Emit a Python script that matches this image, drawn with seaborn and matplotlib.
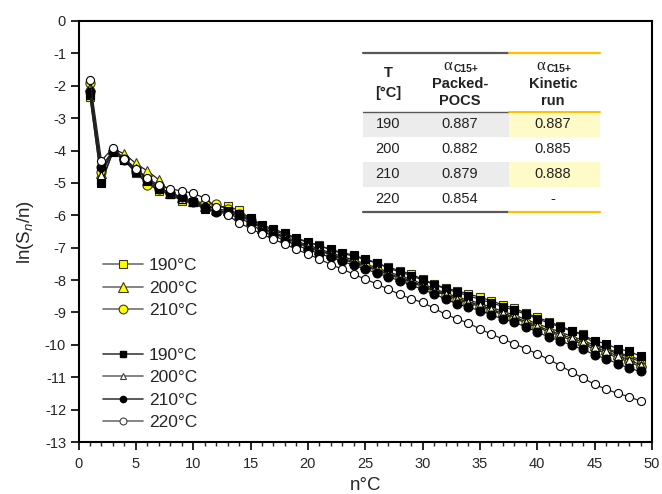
import numpy as np
import pandas as pd
import matplotlib
matplotlib.use("Agg")
import matplotlib.pyplot as plt
from matplotlib.lines import Line2D
from matplotlib.patches import Rectangle
import seaborn as sns

# ---------------- data ----------------
n_carbon = list(range(1, 50))

packed_190 = [-2.35, -4.95, -4.05, -4.30, -4.70, -5.00, -5.25, -5.35, -5.55, -5.60,
              -5.72, -5.75, -5.72, -5.85, -6.10, -6.33, -6.46, -6.60, -6.72, -6.84,
              -6.92, -7.07, -7.18, -7.26, -7.37, -7.48, -7.60, -7.71, -7.82, -7.97,
              -8.12, -8.25, -8.33, -8.43, -8.53, -8.64, -8.77, -8.87, -9.02, -9.15,
              -9.28, -9.42, -9.56, -9.68, -9.98, -10.10, -10.24, -10.34, -10.46]
packed_200 = [-2.00, -4.70, -3.95, -4.10, -4.40, -4.63, -4.90, -5.30, -5.45, -5.55,
              -5.70, -5.80, -5.85, -5.98, -6.15, -6.38, -6.52, -6.66, -6.80, -6.92,
              -7.04, -7.16, -7.27, -7.38, -7.50, -7.62, -7.75, -7.86, -7.98, -8.12,
              -8.26, -8.40, -8.52, -8.62, -8.72, -8.84, -8.97, -9.08, -9.22, -9.35,
              -9.48, -9.60, -9.74, -9.86, -10.02, -10.13, -10.28, -10.38, -10.52]
packed_210 = [-1.90, -4.65, -4.00, -4.28, -4.65, -5.05, -5.20, -5.30, -5.45, -5.55,
              -5.63, -5.66, -5.82, -5.95, -6.15, -6.40, -6.55, -6.70, -6.85, -6.98,
              -7.10, -7.22, -7.35, -7.47, -7.58, -7.70, -7.83, -7.95, -8.07, -8.20,
              -8.33, -8.47, -8.60, -8.70, -8.82, -8.94, -9.07, -9.18, -9.32, -9.46,
              -9.60, -9.72, -9.86, -9.98, -10.14, -10.26, -10.40, -10.52, -10.68]
kinetic_190 = [-2.30, -5.00, -4.05, -4.30, -4.65, -4.95, -5.20, -5.35, -5.50, -5.60,
               -5.82, -5.88, -5.88, -5.95, -6.08, -6.30, -6.42, -6.56, -6.70, -6.82,
               -6.95, -7.05, -7.15, -7.23, -7.35, -7.46, -7.63, -7.75, -7.86, -8.00,
               -8.14, -8.27, -8.38, -8.48, -8.60, -8.70, -8.82, -8.93, -9.06, -9.19,
               -9.33, -9.45, -9.58, -9.70, -9.87, -9.97, -10.12, -10.20, -10.35]
kinetic_200 = [-2.05, -4.75, -4.00, -4.25, -4.55, -4.85, -5.15, -5.35, -5.50, -5.60,
               -5.75, -5.85, -5.90, -6.02, -6.18, -6.42, -6.55, -6.70, -6.84, -6.96,
               -7.08, -7.20, -7.32, -7.43, -7.55, -7.67, -7.80, -7.91, -8.03, -8.17,
               -8.30, -8.44, -8.57, -8.67, -8.78, -8.90, -9.03, -9.14, -9.28, -9.42,
               -9.55, -9.67, -9.80, -9.92, -10.08, -10.20, -10.34, -10.46, -10.62]
kinetic_210 = [-2.20, -4.50, -4.00, -4.25, -4.60, -4.90, -5.15, -5.30, -5.45, -5.60,
               -5.75, -5.90, -5.95, -6.08, -6.25, -6.50, -6.63, -6.78, -6.92, -7.06,
               -7.18, -7.30, -7.42, -7.54, -7.66, -7.78, -7.90, -8.02, -8.15, -8.29,
               -8.43, -8.58, -8.74, -8.84, -8.94, -9.08, -9.20, -9.30, -9.45, -9.60,
               -9.76, -9.87, -10.02, -10.14, -10.31, -10.43, -10.58, -10.72, -10.82]
kinetic_220 = [-1.82, -4.31, -3.92, -4.25, -4.58, -4.86, -5.07, -5.18, -5.25, -5.32,
               -5.47, -5.74, -6.00, -6.23, -6.41, -6.58, -6.74, -6.89, -7.05, -7.20,
               -7.35, -7.52, -7.66, -7.82, -7.97, -8.12, -8.28, -8.44, -8.58, -8.69,
               -8.87, -9.06, -9.20, -9.33, -9.51, -9.67, -9.82, -9.97, -10.12, -10.28,
               -10.45, -10.64, -10.84, -11.03, -11.22, -11.37, -11.50, -11.60, -11.74]

legend_labels = ["190°C", "200°C", "210°C", "190°C", "200°C", "210°C", "220°C"]

table_T = ["190", "200", "210", "220"]
table_packed = ["0.887", "0.882", "0.879", "0.854"]
table_kinetic = ["0.887", "0.885", "0.888", "-"]

# ---------------- style ----------------
sns.set_style("white")
plt.rcParams["font.family"] = ["Liberation Sans", "DejaVu Sans"]
plt.rcParams["axes.unicode_minus"] = False
plt.rcParams["mathtext.fontset"] = "custom"
plt.rcParams["mathtext.rm"] = "Liberation Sans"
plt.rcParams["mathtext.it"] = "Liberation Sans:italic"

W, H = 662, 494
fig = plt.figure(figsize=(W / 100, H / 100), dpi=100)
ax_l, ax_r, ax_t, ax_b = 78.5, 652, 21, 442
ax = fig.add_axes([ax_l / W, 1 - ax_b / H, (ax_r - ax_l) / W, (ax_b - ax_t) / H])

YEL = "#ffff00"
YEL_EDGE = "#3a3a1a"
series = [
    (packed_190, "s", YEL, YEL_EDGE, 6.4),
    (packed_200, "^", YEL, YEL_EDGE, 7.0),
    (packed_210, "o", YEL, YEL_EDGE, 6.6),
    (kinetic_190, "s", "black", "black", 6.0),
    (kinetic_200, "^", "white", "black", 6.4),
    (kinetic_210, "o", "black", "black", 6.4),
    (kinetic_220, "o", "white", "black", 5.8),
]
for vals, mk, fc, ec, ms in series:
    df = pd.DataFrame({"n": n_carbon, "v": vals})
    sns.lineplot(data=df, x="n", y="v", ax=ax, color="#202020", lw=0.9,
                 marker=mk, markersize=ms, markerfacecolor=fc,
                 markeredgecolor=ec, markeredgewidth=0.8, legend=False)

ax.set_xlim(0, 50)
ax.set_ylim(-13, 0)
ax.set_xticks(np.arange(0, 51, 5))
ax.set_xticks(np.arange(0, 51, 1), minor=True)
ax.set_yticks(np.arange(-13, 1, 1))
ax.tick_params(axis="both", which="major", direction="out", length=6, width=1.2,
               labelsize=10.5, color="black", pad=3, bottom=True, left=True,
               top=False, right=False)
ax.tick_params(axis="x", which="major", pad=5)
ax.tick_params(axis="x", which="minor", direction="out", length=3, width=1.0,
               bottom=True, top=False)
for sp in ax.spines.values():
    sp.set_visible(True)
    sp.set_color("black")
    sp.set_linewidth(1.5)
ax.set_xlabel("n°C", fontsize=13.5, labelpad=4)
ax.set_ylabel("ln(S$_n$/n)", fontsize=13.5, labelpad=6)

# ---------------- legend ----------------
LG = "#707070"
handles = [
    Line2D([], [], color=LG, lw=1.2, marker="s", ms=5.5, mfc=YEL, mec=YEL_EDGE, mew=0.8),
    Line2D([], [], color=LG, lw=1.2, marker="^", ms=6.5, mfc=YEL, mec=YEL_EDGE, mew=0.8),
    Line2D([], [], color=LG, lw=1.2, marker="o", ms=6.3, mfc=YEL, mec=YEL_EDGE, mew=0.8),
    Line2D([], [], linestyle="none", marker="none"),
    Line2D([], [], color="#404040", lw=1.2, marker="s", ms=4.0, mfc="black", mec="black"),
    Line2D([], [], color=LG, lw=1.2, marker="^", ms=5.0, mfc="white", mec="#404040", mew=0.8),
    Line2D([], [], color="#404040", lw=1.2, marker="o", ms=4.5, mfc="black", mec="black"),
    Line2D([], [], color=LG, lw=1.2, marker="o", ms=5.0, mfc="white", mec="#404040", mew=0.8),
]
labels = legend_labels[:3] + [" "] + legend_labels[3:]
fig.legend(handles, labels, loc="upper left", bbox_to_anchor=(103 / W, 1 - 258 / H),
           frameon=False, fontsize=12.5, handlelength=2.3, handletextpad=0.35,
           labelspacing=0.42, borderpad=0, borderaxespad=0)

# ---------------- table ----------------
def fx(px):
    return px / W

def fy(py):
    return 1 - py / H

x0, xs, x1 = 363, 509, 600
DARK = "#595959"
GOLD = "#ffc000"
y_top, y_hdr = 52.7, 111.7
row_h = 25.0
row_tops = [y_hdr + i * row_h for i in range(4)]
y_bot = y_hdr + 4 * row_h

for i, rt in enumerate(row_tops):
    if i % 2 == 0:
        fig.add_artist(Rectangle((fx(x0), fy(rt + row_h)), fx(xs) - fx(x0), fy(rt) - fy(rt + row_h),
                                 transform=fig.transFigure, facecolor="#ececec", edgecolor="none", zorder=1))
        fig.add_artist(Rectangle((fx(xs), fy(rt + row_h)), fx(x1) - fx(xs), fy(rt) - fy(rt + row_h),
                                 transform=fig.transFigure, facecolor="#fefbc8", edgecolor="none", zorder=1))

def hline(y, xa, xb, color, lw):
    fig.add_artist(Line2D([fx(xa), fx(xb)], [fy(y), fy(y)], transform=fig.transFigure,
                          color=color, lw=lw, zorder=3))

hline(y_top, x0, xs, DARK, 1.6)
hline(y_top, xs, x1, GOLD, 1.6)
hline(y_hdr, x0, xs, DARK, 1.0)
hline(y_hdr, xs, x1, GOLD, 1.4)
hline(y_bot, x0, xs, DARK, 1.6)
hline(y_bot, xs, x1, GOLD, 1.6)

cx = [388, 460, 553]
tk = dict(ha="center", va="center", fontsize=10.5, color="#222222", zorder=4)
hb = dict(ha="center", va="center", fontsize=10.5, fontweight="bold", color="#222222", zorder=4)
fig.text(fx(cx[0]), fy(73), "T", **hb)
fig.text(fx(cx[0]), fy(93), "[°C]", **hb)
for c, l1, l2 in [(cx[1], "Packed-", "POCS"), (cx[2], "Kinetic", "run")]:
    fig.text(fx(c - 12), fy(66), "α", ha="center", va="center", fontsize=12,
             family="Liberation Serif", color="#222222", zorder=4)
    fig.text(fx(c - 6), fy(69), "C15+", ha="left", va="center", fontsize=7.5,
             fontweight="bold", color="#222222", zorder=4)
    fig.text(fx(c), fy(84), l1, **hb)
    fig.text(fx(c), fy(101), l2, **hb)
for i in range(4):
    yc = row_tops[i] + row_h / 2
    fig.text(fx(cx[0]), fy(yc), table_T[i], **tk)
    fig.text(fx(cx[1]), fy(yc), table_packed[i], **tk)
    fig.text(fx(cx[2]), fy(yc), table_kinetic[i], **tk)

fig.savefig("out.png", dpi=100)
